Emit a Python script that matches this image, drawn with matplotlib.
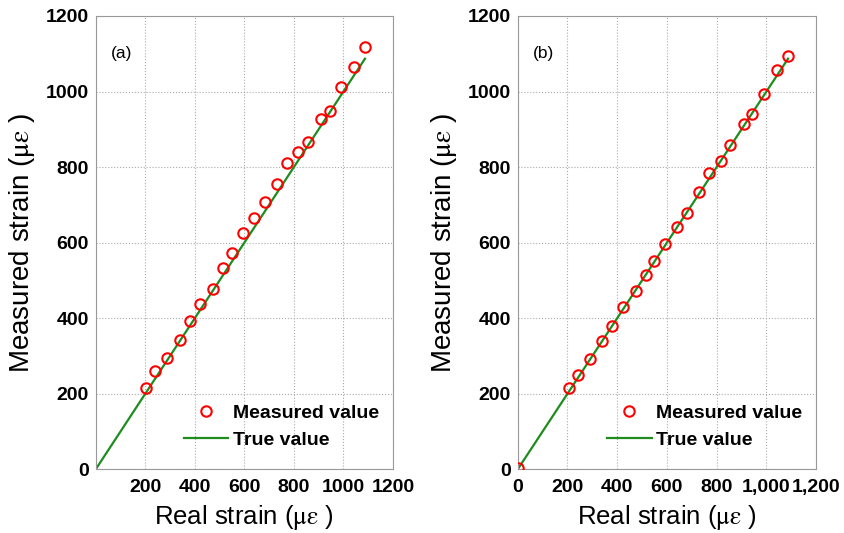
import matplotlib.pyplot as plt
import numpy as np

# real strain (x), shared by both panels
real_a = [205, 241, 288, 340, 380, 423, 473, 513, 550, 593, 641, 682,
          730, 771, 818, 855, 908, 944, 992, 1041, 1087]
meas_a = [216, 260, 295, 342, 392, 438, 478, 532, 573, 625, 665, 708,
          754, 812, 841, 867, 926, 949, 1013, 1066, 1119]

real_b = [0, 205, 241, 289, 340, 381, 423, 474, 514, 550, 593, 641, 681,
          730, 770, 818, 854, 908, 944, 991, 1041, 1086]
meas_b = [3, 214, 249, 293, 340, 380, 430, 473, 514, 552, 597, 642, 678,
          733, 784, 815, 858, 913, 940, 993, 1057, 1095]

true_x = [0, 1087]
true_y = [0, 1087]

ticks = [0, 200, 400, 600, 800, 1000, 1200]
xlab_a = ["", "200", "400", "600", "800", "1000", "1200"]
xlab_b = ["0", "200", "400", "600", "800", "1,000", "1,200"]
ylab = ["0", "200", "400", "600", "800", "1000", "1200"]

plt.rcParams['font.family'] = ['Liberation Sans', 'DejaVu Sans']
plt.rcParams['mathtext.fontset'] = 'stix'

fig = plt.figure(figsize=(8.44, 5.33), dpi=100)
ax1 = fig.add_axes([0.1134, 0.1195, 0.3522, 0.8505])
ax2 = fig.add_axes([0.6134, 0.1195, 0.3536, 0.8505])

panels = [(ax1, real_a, meas_a, xlab_a, "(a)"),
          (ax2, real_b, meas_b, xlab_b, "(b)")]

for ax, xs, ys, xl, tag in panels:
    ax.plot(xs, ys, 'o', mfc='none', mec='red', mew=1.5, ms=7.5,
            label='Measured value', zorder=3)
    ax.plot(true_x, true_y, '-', color='#1e8c1e', lw=1.6, label='True value')
    ax.set_xlim(0, 1200)
    ax.set_ylim(0, 1200)
    ax.set_xticks(ticks)
    ax.set_xticklabels(xl)
    ax.set_yticks(ticks)
    ax.set_yticklabels(ylab)
    ax.tick_params(length=0, labelsize=14, pad=5)
    ax.tick_params(axis='x', pad=7)
    for t in ax.get_xticklabels() + ax.get_yticklabels():
        t.set_fontweight('bold')
    ax.grid(True, ls=':', color='#aaaaaa', lw=0.8)
    for s in ax.spines.values():
        s.set_color('#999999')
    ax.set_xlabel(r"Real strain ($\mathrm{\mu\varepsilon}$ )", fontsize=18.5, labelpad=5)
    ax.set_ylabel(r"Measured strain ($\mathrm{\mu\varepsilon}$ )", fontsize=20, labelpad=6)
    ax.text(0.05, 0.918, tag, transform=ax.transAxes, fontsize=12.5, va='center')
    leg = ax.legend(loc='lower right', frameon=False, fontsize=14,
                    handlelength=2.3, handletextpad=0.25, borderaxespad=0.3,
                    labelspacing=0.5, bbox_to_anchor=(1.0, 0.015))
    for t in leg.get_texts():
        t.set_fontweight('bold')

fig.savefig('out.png', dpi=100)
